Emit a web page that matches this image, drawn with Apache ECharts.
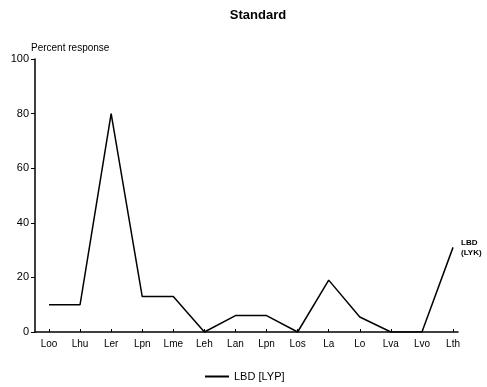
<!DOCTYPE html>
<html><head><meta charset="utf-8">
<script src="https://cdn.jsdelivr.net/npm/echarts@6/dist/echarts.min.js"></script>
<style>html,body{margin:0;padding:0;background:#fff}#c{width:487px;height:387px}</style>
</head><body><div id="c"></div>
<script>
var categories = ["Loo","Lhu","Ler","Lpn","Lme","Leh","Lan","Lpn","Los","La","Lo","Lva","Lvo","Lth"];
var values = [10, 10, 80, 13, 13, 0, 6, 6, 0, 19, 5.5, 0, 0, 31];
var yTicks = [0, 20, 40, 60, 80, 100];
var seriesName = "LBD [LYP]";
var endNote = "LBD\n(LYK)";

var pts = values.map(function(v, i){ return [i, v]; });
var idx = categories.map(function(c, i){ return i; });
var font = "Liberation Sans, Arial, sans-serif";
var chart = echarts.init(document.getElementById('c'), null, {renderer:'canvas'});
chart.setOption({
  animation: false,
  backgroundColor: '#fff',
  title: { text: 'Standard', left: 253, textAlign: 'center', top: 4,
    textStyle: { fontFamily: font, fontSize: 13, fontWeight: 'bold', color: '#000' } },
  legend: { bottom: 0, left: 200, itemWidth: 24, itemHeight: 2, itemGap: 10,
    textStyle: { fontFamily: font, fontSize: 11, color: '#000' },
    data: [{ name: seriesName, icon: 'rect' }] },
  grid: { left: 35, right: 29, top: 59, bottom: 55, containLabel: false },
  xAxis: { type: 'value', min: -0.45, max: 13.16,
    splitLine: { show: false },
    axisLine: { onZero: false, lineStyle: { color: '#000', width: 1.5 } },
    axisTick: { inside: true, length: 3, customValues: idx, lineStyle: { color: '#000' } },
    axisLabel: { fontFamily: font, fontSize: 10, color: '#000', margin: 7, customValues: idx,
      formatter: function(v){ var i = Math.round(v); return categories[i] || ''; } }
  },
  yAxis: { type: 'value', min: 0, max: 100, interval: 20,
    name: 'Percent response', nameLocation: 'end', nameGap: 6,
    nameTextStyle: { fontFamily: font, fontSize: 10, color: '#000', align: 'left', padding: [0,0,0,-4] },
    splitLine: { show: false },
    axisLine: { show: true, onZero: false, lineStyle: { color: '#000', width: 1.5 } },
    axisTick: { show: true, length: 4, lineStyle: { color: '#000' } },
    axisLabel: { fontFamily: font, fontSize: 11, color: '#000', margin: 6,
      formatter: function(v){ return yTicks.indexOf(v) >= 0 ? String(v) : ''; } }
  },
  series: [{
    name: seriesName, type: 'line', data: pts, symbol: 'none',
    lineStyle: { color: '#000', width: 1.5 }, itemStyle: { color: '#000' },
    endLabel: { show: true, formatter: endNote, distance: 8,
      fontFamily: font, fontSize: 8, fontWeight: 'bold', lineHeight: 10, color: '#000' }
  }]
});
</script></body></html>
